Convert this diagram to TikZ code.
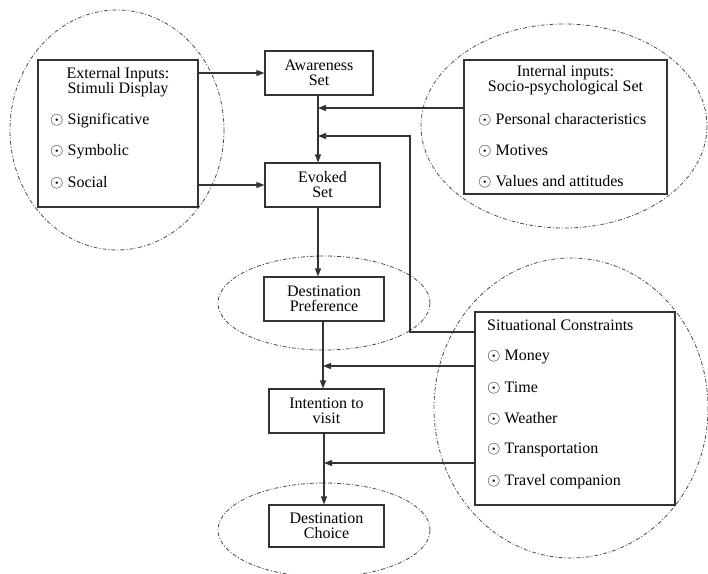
\documentclass[tikz,border=0pt]{standalone}
\usepackage{fontspec}
\setmainfont{Liberation Serif}
\usetikzlibrary{arrows.meta}
\newcommand\bullitem[3]{%
\node[item] (#1) at (#2) {$\odot$\ #3};
}

\begin{document}
\begin{tikzpicture}[x=1pt,y=-1pt,
	every node/.style={font=\fontsize{16}{15}\selectfont},
	box/.style={draw=black!80,line width=1.1pt,align=center,inner sep=0pt},
	item/.style={anchor=west,inner sep=0pt},
	zone/.style={draw=black!70,line width=0.8pt,dash pattern=on 4pt off 2pt on 1pt off 2pt},
	flow/.style={draw=black!80,line width=1.1pt,-{Triangle[length=8pt,width=6pt]}}]
	%% page size
	\useasboundingbox (0,0) rectangle (708,573);

	%% dash-dot zones
	\draw[zone] (117,130) ellipse (107 and 120);
	\draw[zone] (564,126) ellipse (143 and 102);
	\draw[zone] (324,303) ellipse (106 and 47);
	\draw[zone] (324,530) ellipse (106 and 47);
	\draw[zone] (571,408) ellipse (137 and 150);

	%% main chain
	\node[box,minimum width=108pt,minimum height=44pt] (aw) at (319,73) {Awareness\\Set};
	\node[box,minimum width=115pt,minimum height=44pt] (ev) at (322.5,185) {Evoked\\Set};
	\node[box,minimum width=120pt,minimum height=44pt] (dp) at (324,299) {Destination\\Preference};
	\node[box,minimum width=115pt,minimum height=44pt] (intent) at (326.5,411) {Intention to\\visit};
	\node[box,minimum width=115pt,minimum height=42pt] (dc) at (326.5,526) {Destination\\Choice};

	%% external inputs
	\node[box,minimum width=160pt,minimum height=147pt] (ext) at (118,133.5) {};
	\node (extT) at (118,82) [align=center,inner sep=0pt] {External Inputs:\\Stimuli Display};
	\bullitem{e1}{50,121}{Significative}
	\bullitem{e2}{50,152}{Symbolic}
	\bullitem{e3}{50,183}{Social}

	%% internal inputs
	\node[box,minimum width=203pt,minimum height=134pt] (int) at (565.5,127) {};
	\node (intT) at (565.5,80) [align=center,inner sep=0pt] {Internal inputs:\\Socio-psychological Set};
	\bullitem{i1}{478,120}{Personal characteristics}
	\bullitem{i2}{478,151}{Motives}
	\bullitem{i3}{478,182}{Values and attitudes}

	%% situational constraints
	\node[box,minimum width=200pt,minimum height=193pt] (sit) at (575,408.5) {};
	\node[item] (sitT) at (487,325) {Situational Constraints};
	\bullitem{s1}{487,357}{Money}
	\bullitem{s2}{487,388}{Time}
	\bullitem{s3}{487,419}{Weather}
	\bullitem{s4}{487,450}{Transportation}
	\bullitem{s5}{487,482}{Travel companion}

	%% junctions
	\coordinate (j1) at (318,108);
	\coordinate (j2) at (318,136);
	\coordinate (k1) at (410,136);
	\coordinate (k2) at (410,332);
	\coordinate (j3) at (323,366);
	\coordinate (j4) at (324,463);

	%% connectors
	\draw[flow] (ext.east |- aw.west) -- (aw.west);
	\draw[flow] (ext.east |- ev.west) -- (ev.west);
	\draw[flow] (aw.south -| j1) -- (ev.north -| j1);
	\draw[flow] (int.west |- j1) -- (j1);
	\draw[flow] (sit.west |- k2) -- (k2) -- (k1) -- (j2);
	\draw[flow] (ev.south -| j1) -- (dp.north -| j1);
	\draw[flow] (dp.south -| j3) -- (intent.north -| j3);
	\draw[flow] (sit.west |- j3) -- (j3);
	\draw[flow] (intent.south -| j4) -- (dc.north -| j4);
	\draw[flow] (sit.west |- j4) -- (j4);
\end{tikzpicture}
\end{document}
